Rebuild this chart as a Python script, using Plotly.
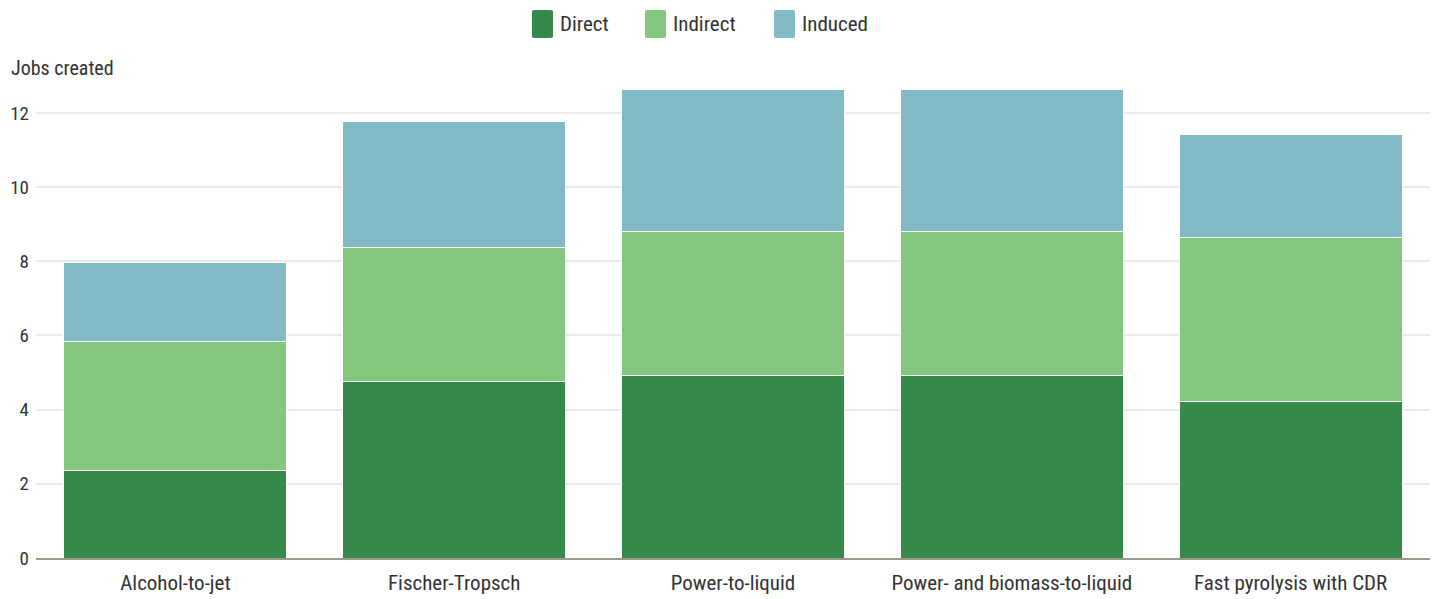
import plotly.graph_objects as go

categories = ["Alcohol-to-jet", "Fischer-Tropsch", "Power-to-liquid",
              "Power- and biomass-to-liquid", "Fast pyrolysis with CDR"]
direct = [2.37, 4.77, 4.91, 4.91, 4.21]
indirect = [3.48, 3.59, 3.90, 3.90, 4.43]
induced = [2.11, 3.40, 3.81, 3.81, 2.77]
series_names = ["Direct", "Indirect", "Induced"]
colors = ["#358a4a", "#85c77e", "#82bbc5"]
y_ticks = [0, 2, 4, 6, 8, 10, 12]

FONT = "Roboto Condensed, Liberation Sans Narrow, Roboto, sans-serif"
TXT = "#333333"

fig = go.Figure()
for name, vals, col in zip(series_names, [direct, indirect, induced], colors):
    fig.add_trace(go.Bar(
        x=categories, y=vals, name=name,
        marker=dict(color=col, line=dict(color="white", width=1)),
        showlegend=False,
    ))

fig.update_layout(
    barmode="stack",
    bargap=0.2,
    width=1440, height=599,
    margin=dict(l=36, r=10, t=87, b=41),
    plot_bgcolor="white", paper_bgcolor="white",
    font=dict(family=FONT, size=19, color=TXT),
    xaxis=dict(showgrid=False, showline=True, linecolor="#9a9a8c", linewidth=2,
               ticks="", tickfont=dict(size=21, color=TXT), ticklabelstandoff=5,
               automargin=False),
    yaxis=dict(range=[0, 12.7], tickvals=y_ticks, showgrid=True,
               gridcolor="#ebebeb", gridwidth=2, zeroline=False,
               ticks="", tickfont=dict(size=19, color=TXT), ticklabelstandoff=6,
               automargin=False),
)

W, H = 1440, 599
pw = W - 36 - 10
ph = H - 87 - 41

def px(xp):
    return (xp - 36) / pw

def py(yp):
    return (H - 41 - yp) / ph

# y-axis title at top-left
fig.add_annotation(text="Jobs created", xref="paper", yref="paper",
                   x=px(9), y=py(68), xanchor="left", yanchor="middle",
                   showarrow=False,
                   font=dict(family=FONT, size=20, color=TXT))

# custom legend with rounded swatches
legend_x = [532, 645, 774]

def rounded_rect(x0, y0, x1, y1, r):
    return (f"M{x0+r},{y0} L{x1-r},{y0} Q{x1},{y0} {x1},{y0+r} "
            f"L{x1},{y1-r} Q{x1},{y1} {x1-r},{y1} L{x0+r},{y1} "
            f"Q{x0},{y1} {x0},{y1-r} L{x0},{y0+r} Q{x0},{y0} {x0+r},{y0} Z")

for name, col, lx in zip(series_names, colors, legend_x):
    fig.add_shape(type="path", xref="paper", yref="paper",
                  path=rounded_rect(px(lx), py(38), px(lx + 21), py(10), 0.0025),
                  fillcolor=col, line=dict(width=0))
    fig.add_annotation(text=name, xref="paper", yref="paper",
                       x=px(lx + 26), y=py(24), xanchor="left", yanchor="middle",
                       showarrow=False,
                       font=dict(family=FONT, size=21, color=TXT))

fig.write_html("out.html")
